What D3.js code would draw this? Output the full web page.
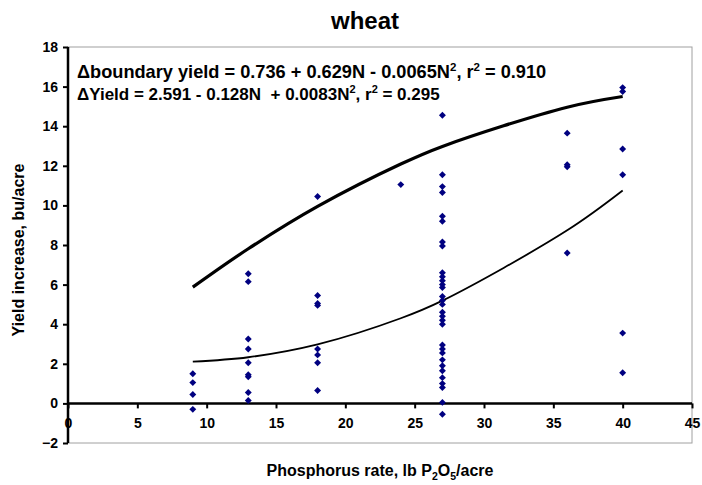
<!DOCTYPE html>
<html lang="en">
<head>
  <meta charset="UTF-8">
  <title>wheat</title>
  <style>
  * {
    margin: 0;padding: 0;
  }
  body {
    background: #fff;
  }
  svg text {
    font-family: "Liberation Sans", Arial, sans-serif;
    font-weight: bold;
  }
  </style>
  <script src="https://cdn.jsdelivr.net/npm/d3@7/dist/d3.min.js"></script>
</head>
<body>
<svg width="702" height="485" id="svg1"></svg>
<script>
// P rate (lb P2O5/acre) and the yield increases seen at each rate
const rates = [9, 13, 18, 24, 27, 36, 40];
const yields = [
  [1.5, 1.05, 0.45, -0.3],
  [6.55, 6.15, 3.25, 2.75, 2.05, 1.45, 1.35, 0.55, 0.15],
  [10.45, 5.45, 5.05, 4.95, 2.75, 2.45, 2.05, 0.65],
  [11.05],
  [14.55, 11.55, 10.95, 10.65, 9.45, 9.2, 8.15, 7.95, 6.6, 6.4, 6.2, 6.0, 5.85,
   5.4, 5.2, 5.0, 4.6, 4.4, 4.2, 4.0, 2.95, 2.75, 2.55, 2.2, 1.9, 1.65, 1.3,
   1.0, 0.8, 0.05, -0.55],
  [13.65, 12.05, 11.95, 7.6],
  [15.95, 15.75, 12.85, 11.55, 3.55, 1.55]
];

// curves at the same rates
const boundaryY = [5.87, 7.81, 9.95, 12.09, 12.98, 14.96, 15.5];
const fitY = [2.11, 2.33, 2.98, 4.3, 5.19, 8.74, 10.75];

const xTicks = [0, 5, 10, 15, 20, 25, 30, 35, 40, 45];
const yTicks = [-2, 0, 2, 4, 6, 8, 10, 12, 14, 16, 18];

const svg = d3.select("#svg1");
const plotL = 68, plotR = 692, plotT = 47, plotB = 443;

const x = d3.scaleLinear().domain([0, 45]).range([plotL, plotR]);
const y = d3.scaleLinear().domain([-2, 18]).range([plotB, plotT]);

// plot area border (light gray)
svg.append("rect")
  .attr("x", plotL).attr("y", plotT)
  .attr("width", plotR - plotL).attr("height", plotB - plotT)
  .attr("fill", "none")
  .attr("stroke", "#a0a0a0")
  .attr("stroke-width", 1);

// title
svg.append("text")
  .attr("x", 365).attr("y", 29)
  .attr("text-anchor", "middle")
  .attr("font-size", 24)
  .text("wheat");

// y axis
const yAxis = svg.append("g")
  .attr("transform", `translate(${plotL},0)`)
  .call(d3.axisLeft(y).tickValues(yTicks).tickSize(5).tickPadding(5).tickFormat(d3.format("d")));
yAxis.select(".domain").attr("stroke-width", 2.5).attr("d", `M0,${plotT}V${plotB}`);
yAxis.selectAll(".tick line").attr("stroke-width", 2);
yAxis.selectAll(".tick text").attr("font-size", 14).attr("fill", "#000");
yAxis.attr("font-family", null);

// x axis, crossing at y = 0
const xAxis = svg.append("g")
  .attr("transform", `translate(0,${y(0)})`)
  .call(d3.axisBottom(x).tickValues(xTicks).tickSize(5).tickPadding(10));
xAxis.select(".domain").attr("stroke-width", 2.5).attr("d", `M${plotL},0H${plotR}`);
xAxis.selectAll(".tick line").attr("stroke-width", 2);
xAxis.selectAll(".tick text").attr("font-size", 14).attr("fill", "#000");
xAxis.attr("font-family", null);

// curves
const line = d3.line()
  .x((d, i) => x(rates[i]))
  .y(d => y(d))
  .curve(d3.curveCatmullRom);

svg.append("path")
  .attr("d", line(boundaryY))
  .attr("fill", "none")
  .attr("stroke", "#000")
  .attr("stroke-width", 3.2);

svg.append("path")
  .attr("d", line(fitY))
  .attr("fill", "none")
  .attr("stroke", "#000")
  .attr("stroke-width", 1.8);

// points
const points = [];
rates.forEach((n, i) => yields[i].forEach(v => points.push({n: n, v: v})));

svg.append("g").selectAll("path").data(points).enter()
  .append("path")
  .attr("d", d3.symbol().type(d3.symbolSquare).size(24))
  .attr("transform", d => `translate(${x(d.n)},${y(d.v)}) rotate(45)`)
  .attr("fill", "#000080");

// equations
const eq1 = svg.append("text").attr("x", 77).attr("y", 78).attr("font-size", 18.2);
eq1.append("tspan").text("\u0394boundary yield = 0.736 + 0.629N - 0.0065N");
eq1.append("tspan").attr("font-size", 11.5).attr("dy", -7).text("2");
eq1.append("tspan").attr("dy", 7).text(", r");
eq1.append("tspan").attr("font-size", 11.5).attr("dy", -7).text("2");
eq1.append("tspan").attr("dy", 7).text(" = 0.910");

const eq2 = svg.append("text").attr("x", 77).attr("y", 100).attr("font-size", 17)
  .attr("xml:space", "preserve");
eq2.append("tspan").text("\u0394Yield = 2.591 - 0.128N  + 0.0083N");
eq2.append("tspan").attr("font-size", 11).attr("dy", -7).text("2");
eq2.append("tspan").attr("dy", 7).text(", r");
eq2.append("tspan").attr("font-size", 11).attr("dy", -7).text("2");
eq2.append("tspan").attr("dy", 7).text(" = 0.295");

// axis titles
svg.append("text")
  .attr("transform", "translate(24,250) rotate(-90)")
  .attr("text-anchor", "middle")
  .attr("font-size", 16)
  .text("Yield increase, bu/acre");

const xt = svg.append("text")
  .attr("x", 380).attr("y", 476)
  .attr("text-anchor", "middle")
  .attr("font-size", 16);
xt.append("tspan").text("Phosphorus rate, lb P");
xt.append("tspan").attr("font-size", 10.5).attr("dy", 4).text("2");
xt.append("tspan").attr("dy", -4).text("O");
xt.append("tspan").attr("font-size", 10.5).attr("dy", 4).text("5");
xt.append("tspan").attr("dy", -4).text("/acre");
</script>
</body>
</html>
